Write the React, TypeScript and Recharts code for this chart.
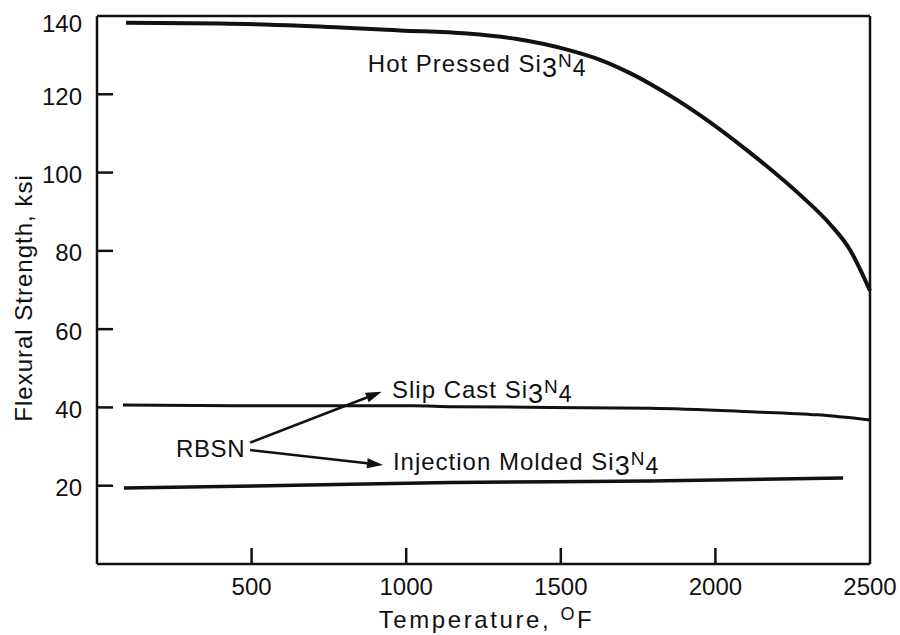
import React from 'react';
import { LineChart, Line, XAxis, YAxis, ReferenceLine, ReferenceDot } from 'recharts';

// ---- data ----
const xTicks = [500, 1000, 1500, 2000, 2500];
const yTicks = [20, 40, 60, 80, 100, 120, 140];
const xTickMarks = [500, 1000, 1500, 2000];
const yTickMarks = [20, 40, 60, 80, 100, 120];

const hotPressedT = [94, 400, 657, 980, 1197, 1358, 1520, 1627, 1724, 1788, 1950, 2112, 2274, 2371, 2435, 2500];
const hotPressedKsi = [138.3, 138.1, 137.5, 136.3, 135.5, 134.1, 131.4, 128.8, 125.4, 122.7, 114.7, 105.1, 94.3, 86.8, 80.3, 69.8];

const slipCastT = [84, 500, 1019, 1142, 1788, 2112, 2329, 2500];
const slipCastKsi = [40.6, 40.4, 40.4, 40.2, 39.8, 38.9, 38.1, 36.8];

const injectionT = [87, 508, 1142, 1788, 2413];
const injectionKsi = [19.4, 19.9, 20.8, 21.2, 22.0];

const labelTexts = ['Hot Pressed Si', 'Slip Cast Si', 'Injection Molded Si'];
const labelT = [876, 954, 957];
const labelKsi = [125.7, 42.4, 24.0];

const rbsnText = 'RBSN';
const rbsnT = 479;
const rbsnKsi = 27.3;

const arrowFromT = [495, 495];
const arrowFromKsi = [31.0, 29.1];
const arrowToT = [921, 925];
const arrowToKsi = [44.0, 25.3];

const xTitle = 'Temperature, ';
const yTitle = 'Flexural Strength, ksi';

const toRows = (ts: number[], vs: number[]) => ts.map((t, i) => ({ t, v: vs[i] }));
const hotPressed = toRows(hotPressedT, hotPressedKsi);
const slipCast = toRows(slipCastT, slipCastKsi);
const injection = toRows(injectionT, injectionKsi);

const FONT = '"Liberation Sans", Arial, sans-serif';
const INK = '#111';

const YTick = (props: any) => {
  const { x, y, payload } = props;
  const shift = payload.value === 140 ? 7 : 2;
  return (
    <text x={x} y={y} dy={8.5 + shift} textAnchor="end" fontSize={24} fontFamily={FONT} fill={INK}>
      {payload.value}
    </text>
  );
};

const XTitle = (props: any) => {
  const vb = props.viewBox || {};
  const cx = vb.x + vb.width / 2 + 3;
  const y = vb.y + 64;
  return (
    <text x={cx} y={y} textAnchor="middle" fontSize={24} letterSpacing={2.6} fontFamily={FONT} fill={INK}>
      {xTitle}
      <tspan fontSize={18} dy={-8}>O</tspan>
      <tspan fontSize={24} dy={8}>F</tspan>
    </text>
  );
};

const YTitle = (props: any) => {
  const vb = props.viewBox || {};
  const cy = vb.y + vb.height / 2 + 8;
  const cx = 32;
  return (
    <text x={cx} y={cy} textAnchor="middle" transform={`rotate(-90, ${cx}, ${cy})`} fontSize={24} letterSpacing={1} fontFamily={FONT} fill={INK}>
      {yTitle}
    </text>
  );
};

const Formula = (text: string) => (props: any) => {
  const { cx, cy } = props;
  return (
    <text x={cx} y={cy} fontSize={24} letterSpacing={1} fontFamily={FONT} fill={INK}>
      {text}
      <tspan fontSize={27} dy={5}>3</tspan>
      <tspan fontSize={19} dy={-10}>N</tspan>
      <tspan fontSize={23} dy={9}>4</tspan>
    </text>
  );
};

const PlainText = (text: string) => (props: any) => {
  const { cx, cy } = props;
  return (
    <text x={cx} y={cy} textAnchor="end" fontSize={24} letterSpacing={0.6} fontFamily={FONT} fill={INK}>
      {text}
    </text>
  );
};

const Arrow = (props: any) => {
  const { x1, y1, x2, y2 } = props;
  const ang = Math.atan2(y2 - y1, x2 - x1);
  const len = 16;
  const hw = 5;
  const bx = x2 - len * Math.cos(ang);
  const by = y2 - len * Math.sin(ang);
  const px = -Math.sin(ang) * hw;
  const py = Math.cos(ang) * hw;
  return (
    <g>
      <line x1={x1} y1={y1} x2={bx} y2={by} stroke={INK} strokeWidth={2.5} />
      <polygon points={`${x2},${y2} ${bx + px},${by + py} ${bx - px},${by - py}`} fill={INK} />
    </g>
  );
};

export default function App() {
  return (
    <div style={{ position: 'absolute', left: 0, top: 0, width: 900, height: 635, background: '#fff' }}>
      <LineChart width={900} height={635} margin={{ top: 16, right: 30, bottom: 0, left: 0 }}>
        <XAxis
          type="number"
          dataKey="t"
          domain={[0, 2500]}
          ticks={xTicks}
          height={71}
          tickLine={false}
          tickSize={0}
          tickMargin={14}
          axisLine={{ stroke: INK, strokeWidth: 2.5 }}
          tick={{ fontSize: 24, fill: INK, fontFamily: FONT }}
          allowDuplicatedCategory={false}
          label={<XTitle />}
        />
        <YAxis
          type="number"
          domain={[0, 140]}
          ticks={yTicks}
          width={97}
          tickLine={false}
          tickSize={0}
          tickMargin={15}
          axisLine={{ stroke: INK, strokeWidth: 2.5 }}
          tick={<YTick />}
          label={<YTitle />}
        />
        <ReferenceLine y={140} stroke={INK} strokeWidth={2.5} ifOverflow="visible" />
        <ReferenceLine x={2500} stroke={INK} strokeWidth={2.5} ifOverflow="visible" />
        {yTickMarks.map((v) => (
          <ReferenceLine key={'yt' + v} segment={[{ x: 0, y: v }, { x: 52, y: v }]} stroke={INK} strokeWidth={2.5} ifOverflow="visible" />
        ))}
        {xTickMarks.map((t) => (
          <ReferenceLine key={'xt' + t} segment={[{ x: t, y: 0 }, { x: t, y: 4.1 }]} stroke={INK} strokeWidth={2.5} ifOverflow="visible" />
        ))}
        <Line data={hotPressed} dataKey="v" type="monotone" stroke={INK} strokeWidth={4} dot={false} isAnimationActive={false} />
        <Line data={slipCast} dataKey="v" type="monotone" stroke={INK} strokeWidth={3} dot={false} isAnimationActive={false} />
        <Line data={injection} dataKey="v" type="monotone" stroke={INK} strokeWidth={3.5} dot={false} isAnimationActive={false} />
        {arrowFromT.map((t, i) => (
          <ReferenceLine
            key={'ar' + i}
            segment={[{ x: t, y: arrowFromKsi[i] }, { x: arrowToT[i], y: arrowToKsi[i] }]}
            ifOverflow="visible"
            shape={<Arrow />}
          />
        ))}
        {labelTexts.map((txt, i) => (
          <ReferenceDot key={'lb' + i} x={labelT[i]} y={labelKsi[i]} r={0} ifOverflow="visible" shape={Formula(txt)} />
        ))}
        <ReferenceDot x={rbsnT} y={rbsnKsi} r={0} ifOverflow="visible" shape={PlainText(rbsnText)} />
      </LineChart>
    </div>
  );
}
